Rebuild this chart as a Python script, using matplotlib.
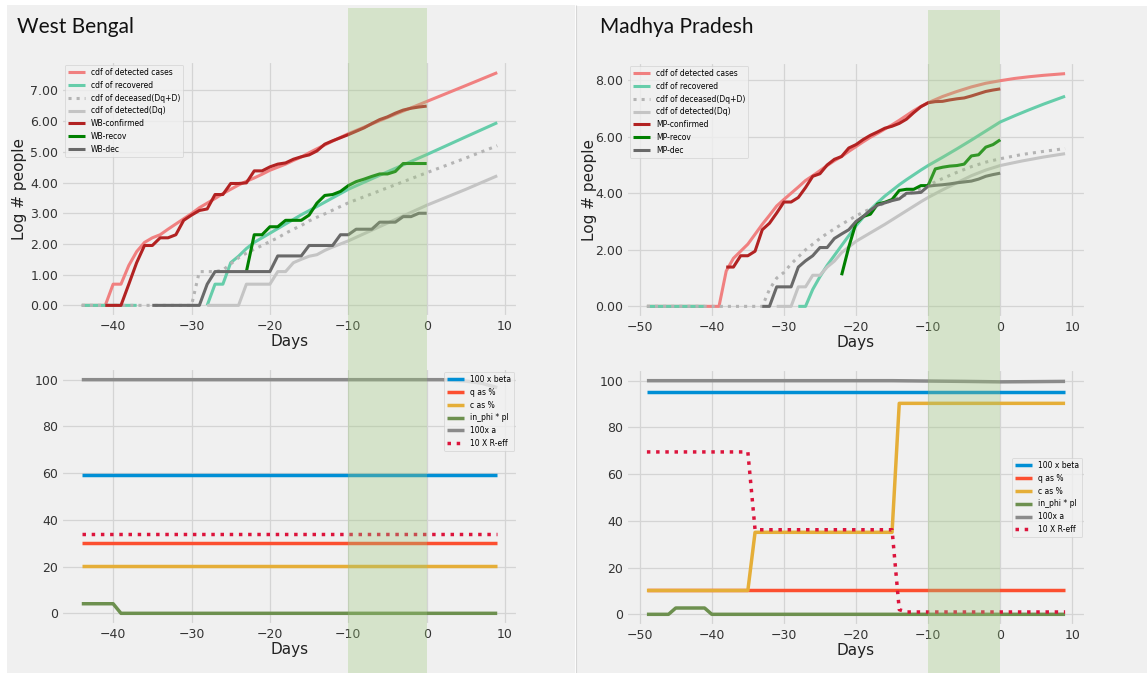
import matplotlib
matplotlib.use("Agg")
import matplotlib.pyplot as plt
import numpy as np
from matplotlib.lines import Line2D
from matplotlib.patches import Rectangle
from matplotlib.ticker import FormatStrFormatter, MultipleLocator
from matplotlib.transforms import blended_transform_factory

nan = np.nan

# ---------------- West Bengal (log of counts) ----------------
wb_det_days = [-44, -41, -40, -39, -38, -37, -36, -35, -34, -33, -32, -31, -30, -29, -28,
               -27, -26, -25, -24, -23, -22, -21, -20, -19, -18, -17, -16, -15, -14, -12,
               -10, -5, 0, 5, 9]
wb_det = [0, 0, 0.69, 0.69, 1.3, 1.75, 2.05, 2.2, 2.3, 2.48, 2.65, 2.82, 2.99, 3.18, 3.33,
          3.48, 3.64, 3.78, 3.92, 4.04, 4.15, 4.27, 4.4, 4.5, 4.6, 4.72, 4.83, 4.97, 5.1, 5.35,
          5.59, 6.12, 6.64, 7.16, 7.58]

wb_rec_days = [-44, -37, -36, -28, -27, -26, -25, -24, -23, -22, -21, -20, -18, -16, -14,
               -12, -10, -5, 0, 5, 9]
wb_rec = [0, 0, nan, 0, 0.69, 0.69, 1.39, 1.6, 1.85, 2.05, 2.2, 2.35, 2.65, 2.95, 3.22,
          3.5, 3.78, 4.35, 4.91, 5.49, 5.95]

wb_dead_days = [-44, -30, -29, -28, -27, -26, -25, -24, -23, -22, -21, -20, -19, -18, -17,
                -16, -15, -14, -13, -12, -11, -10, -5, 0, 5, 9]
wb_dead = [0, 0, 1.1, 1.1, 1.1, 1.15, 1.35, 1.55, 1.7, 1.83, 1.95, 2.08, 2.2, 2.35, 2.48,
           2.6, 2.75, 2.87, 2.98, 3.1, 3.22, 3.34, 3.83, 4.32, 4.8, 5.2]

wb_dq_days = [-28, -24, -23, -20, -19, -18, -17, -16, -15, -14, -13, -12, -11, -10, -5, 0, 5, 9]
wb_dq = [0, 0, 0.69, 0.69, 1.1, 1.1, 1.39, 1.5, 1.6, 1.65, 1.79, 1.9, 2.0, 2.1, 2.68, 3.26,
         3.78, 4.22]

wb_conf_days = list(range(-41, 1))
wb_conf = [0, 0, 0, 0.69, 1.39, 1.95, 1.95, 2.2, 2.2, 2.3, 2.77, 2.94, 3.09, 3.14, 3.61,
           3.61, 3.97, 3.97, 3.99, 4.38, 4.38, 4.51, 4.6, 4.64, 4.76, 4.84, 4.9, 5.03, 5.25,
           5.36, 5.46, 5.56, 5.67, 5.78, 5.92, 6.05, 6.14, 6.26, 6.36, 6.42, 6.46, 6.49]

wb_recov_days = list(range(-23, 1))
wb_recov = [1.1, 2.3, 2.3, 2.56, 2.56, 2.77, 2.77, 2.77, 2.94, 3.33, 3.58, 3.61, 3.71, 3.9,
            4.03, 4.11, 4.2, 4.28, 4.28, 4.36, 4.62, 4.62, 4.62, 4.62]

wb_dec_days = list(range(-35, 1))
wb_dec = [0, 0, 0, 0, 0, 0, 0, 0.69, 1.1, 1.1, 1.1, 1.1, 1.1, 1.1, 1.1, 1.1, 1.61, 1.61,
          1.61, 1.61, 1.95, 1.95, 1.95, 1.95, 2.3, 2.3, 2.48, 2.48, 2.48, 2.71, 2.71, 2.71,
          2.89, 2.89, 3.0, 3.0]

# West Bengal parameters
wb_par_days = [-44, -40, -39, 0, 9]
wb_beta = [59, 59, 59, 59, 59]
wb_q = [30.3, 30.3, 30.3, 30.3, 30.3]
wb_c = [20.2, 20.2, 20.2, 20.2, 20.2]
wb_phi = [4.1, 4.1, 0, 0, 0]
wb_reff = [34, 34, 34, 34, 34]
wb_a_days = [-44, 2, 5, 7, 9]
wb_a = [100, 100, 99.4, 98.5, 96.6]

# ---------------- Madhya Pradesh (log of counts) ----------------
mp_det_days = [-49, -39, -38, -37, -36, -35, -34, -33, -32, -31, -30, -29, -28, -27, -26,
               -25, -24, -23, -22, -21, -20, -19, -18, -17, -16, -15, -14, -13, -12, -11,
               -10, -8, -6, -4, -2, 0, 2, 4, 6, 9]
mp_det = [0, 0, 1.25, 1.7, 1.95, 2.2, 2.55, 2.9, 3.22, 3.55, 3.78, 4.0, 4.22, 4.45, 4.62,
          4.8, 4.98, 5.15, 5.3, 5.48, 5.65, 5.82, 5.98, 6.12, 6.27, 6.42, 6.58, 6.75, 6.92,
          7.07, 7.2, 7.42, 7.6, 7.76, 7.89, 7.98, 8.06, 8.12, 8.17, 8.23]

mp_rec_days = [-49, -41, -40, -28, -27, -26, -25, -24, -23, -22, -21, -20, -19, -18, -17,
               -16, -15, -14, -13, -12, -11, -10, -8, -6, -4, -2, 0, 2, 4, 6, 9]
mp_rec = [0, 0, nan, 0, 0, 0.6, 1.05, 1.45, 1.8, 2.15, 2.5, 2.85, 3.15, 3.42, 3.67, 3.9,
          4.1, 4.3, 4.48, 4.65, 4.82, 4.98, 5.27, 5.57, 5.88, 6.2, 6.52, 6.74, 6.95, 7.15, 7.43]

mp_dead_days = [-49, -33, -32, -31, -30, -29, -28, -27, -26, -25, -24, -23, -22, -21, -20,
                -19, -18, -17, -16, -15, -14, -13, -12, -11, -10, -8, -6, -4, -2, 0, 3, 6, 9]
mp_dead = [0, 0, 0.6, 1.0, 1.2, 1.5, 1.75, 2.0, 2.2, 2.4, 2.58, 2.74, 2.9, 3.05, 3.2, 3.33,
           3.45, 3.55, 3.65, 3.75, 3.85, 3.95, 4.05, 4.15, 4.28, 4.52, 4.74, 4.94, 5.1, 5.22,
           5.37, 5.48, 5.58]

mp_dq_days = [-31, -29, -28, -27, -26, -25, -24, -23, -22, -21, -20, -19, -18, -17, -16,
              -15, -14, -13, -12, -11, -10, -8, -6, -4, -2, 0, 3, 6, 9]
mp_dq = [0, 0, 0.69, 0.69, 1.1, 1.1, 1.39, 1.6, 1.9, 2.1, 2.3, 2.45, 2.6, 2.75, 2.9, 3.06,
         3.22, 3.38, 3.54, 3.7, 3.85, 4.12, 4.37, 4.62, 4.82, 4.98, 5.14, 5.28, 5.4]

mp_conf_days = list(range(-38, 1))
mp_conf = [1.39, 1.39, 1.79, 1.79, 1.95, 2.71, 2.94, 3.3, 3.69, 3.69, 3.85, 4.2, 4.6, 4.69,
           5.0, 5.2, 5.3, 5.6, 5.72, 5.9, 6.05, 6.17, 6.3, 6.37, 6.47, 6.62, 6.85, 7.06, 7.2,
           7.24, 7.25, 7.3, 7.34, 7.37, 7.44, 7.52, 7.6, 7.65, 7.69]

mp_recov_days = list(range(-22, 1))
mp_recov = [1.1, 2.1, 2.95, 3.18, 3.26, 3.62, 3.68, 3.78, 4.1, 4.14, 4.14, 4.27, 4.27, 4.86,
            4.92, 4.96, 4.98, 5.03, 5.32, 5.36, 5.63, 5.72, 5.89]

mp_dec_days = list(range(-33, 1))
mp_dec = [0, 0, 0.69, 0.69, 0.69, 1.39, 1.61, 1.79, 2.08, 2.08, 2.4, 2.56, 2.71, 3.0, 3.18,
          3.4, 3.58, 3.66, 3.74, 3.8, 4.0, 4.01, 4.03, 4.25, 4.28, 4.3, 4.33, 4.37, 4.4, 4.43,
          4.5, 4.6, 4.66, 4.71]

# Madhya Pradesh parameters
mp_beta_days = [-49, 9]
mp_beta = [95.3, 95.3]
mp_q_days = [-49, 9]
mp_q = [10.2, 10.2]
mp_c_days = [-49, -35, -34, -15, -14, 9]
mp_c = [10.2, 10.2, 35.1, 35.1, 90.3, 90.3]
mp_phi_days = [-49, -46, -45, -41, -40, 9]
mp_phi = [0, 0, 2.7, 2.7, 0, 0]
mp_a_days = [-49, -15, -5, 0, 5, 9]
mp_a = [100, 100, 99.7, 99.5, 99.6, 99.7]
mp_reff_days = [-49, -35, -34, -15, -14, -13, 9]
mp_reff = [69.5, 69.5, 36.2, 36.2, 2.0, 1.0, 1.0]

# ---------------- figure ----------------
plt.style.use("fivethirtyeight")
plt.rcParams["font.family"] = ["DejaVu Sans"]

W, H = 1147, 673
BG = "#f0f0f0"


def px_box(left, top, right, bottom):
    return [left / W, 1 - bottom / H, (right - left) / W, (bottom - top) / H]


fig = plt.figure(figsize=(W / 100, H / 100), dpi=100, facecolor="white")

# the two panels
fig.add_artist(Rectangle((7 / W, 0), (575 - 7) / W, (H - 5) / H, transform=fig.transFigure,
                         facecolor=BG, edgecolor="none", zorder=-10))
fig.add_artist(Rectangle((576 / W, 0), (W - 576) / W, (H - 6) / H, transform=fig.transFigure,
                         facecolor=BG, edgecolor="none", zorder=-10))
fig.add_artist(Line2D([575.5 / W, 575.5 / W], [0, (H - 5) / H], transform=fig.transFigure,
                      color="#d6d6d6", lw=0.8, zorder=-9))

tick_size = 9
label_size = 11
leg_size = 5.5


def style_axes(ax, ystep, fmt=None):
    ax.set_facecolor(BG)
    ax.tick_params(labelsize=tick_size, colors="#333333", pad=2)
    ax.xaxis.set_major_locator(MultipleLocator(10))
    ax.yaxis.set_major_locator(MultipleLocator(ystep))
    if fmt:
        ax.yaxis.set_major_formatter(FormatStrFormatter(fmt))
    ax.grid(True, color="#d4d4d4", lw=0.9)
    ax.set_xlabel("Days", fontsize=label_size, color="#222222")


def draw_counts(ax, cdfs, data, names):
    det, rec, dead, dq = cdfs
    ax.plot(*det, color="#f08080", lw=2.2, label="cdf of detected cases")
    ax.plot(*rec, color="#66cdaa", lw=2.2, label="cdf of recovered")
    ax.plot(*dead, color="#b4b4b4", lw=2.2, ls=":", label="cdf of deceased(Dq+D)")
    ax.plot(*dq, color="#c4c4c4", lw=2.2, label="cdf of detected(Dq)")
    conf, recov, dec = data
    ax.plot(*conf, color="#b22222", lw=2.2, label=names[0])
    ax.plot(*recov, color="#008000", lw=2.2, label=names[1])
    ax.plot(*dec, color="#696969", lw=2.2, label=names[2])
    style_axes(ax, 1, "%.2f")
    ax.set_ylabel("Log # people", fontsize=label_size, color="#222222")
    ax.legend(loc="upper left", fontsize=leg_size, borderaxespad=0.5, handlelength=2.2)


def draw_params(ax, beta, q, c, phi, a, reff, loc):
    ax.plot(*beta, color="#008fd5", lw=2.5, label="100 x beta")
    ax.plot(*q, color="#fc4f30", lw=2.5, label="q as %")
    ax.plot(*c, color="#e5ae38", lw=2.5, label="c as %")
    ax.plot(*phi, color="#6d904f", lw=2.5, label="in_phi * pl")
    ax.plot(*a, color="#8b8b8b", lw=2.5, label="100x a")
    ax.plot(*reff, color="#dc143c", lw=2.5, ls=":", label="10 X R-eff")
    style_axes(ax, 20)
    ax.legend(loc=loc, fontsize=leg_size, borderaxespad=0.5, handlelength=2.2)


# West Bengal
ax1 = fig.add_axes(px_box(61, 61, 518, 317))
draw_counts(ax1,
            [(wb_det_days, wb_det), (wb_rec_days, wb_rec), (wb_dead_days, wb_dead),
             (wb_dq_days, wb_dq)],
            [(wb_conf_days, wb_conf), (wb_recov_days, wb_recov), (wb_dec_days, wb_dec)],
            ["WB-confirmed", "WB-recov", "WB-dec"])
ax1.yaxis.set_label_coords(-0.074, 0.5)
ax1.xaxis.set_label_coords(0.5, -0.068)

ax2 = fig.add_axes(px_box(61, 368, 518, 625))
draw_params(ax2, (wb_par_days, wb_beta), (wb_par_days, wb_q), (wb_par_days, wb_c),
            (wb_par_days, wb_phi), (wb_a_days, wb_a), (wb_par_days, wb_reff), "upper right")
ax2.xaxis.set_label_coords(0.5, -0.068)

# Madhya Pradesh
ax3 = fig.add_axes(px_box(626, 62, 1086, 318))
draw_counts(ax3,
            [(mp_det_days, mp_det), (mp_rec_days, mp_rec), (mp_dead_days, mp_dead),
             (mp_dq_days, mp_dq)],
            [(mp_conf_days, mp_conf), (mp_recov_days, mp_recov), (mp_dec_days, mp_dec)],
            ["MP-confirmed", "MP-recov", "MP-dec"])
ax3.yaxis.set_major_locator(MultipleLocator(2))
ax3.yaxis.set_label_coords(-0.063, 0.5)
ax3.xaxis.set_label_coords(0.5, -0.068)

ax4 = fig.add_axes(px_box(626, 369, 1086, 626))
draw_params(ax4, (mp_beta_days, mp_beta), (mp_q_days, mp_q), (mp_c_days, mp_c),
            (mp_phi_days, mp_phi), (mp_a_days, mp_a), (mp_reff_days, mp_reff), "center right")
ax4.xaxis.set_label_coords(0.5, -0.068)

# freeze the autoscaled limits, then shade the last ten days across each column
for ax in (ax1, ax2, ax3, ax4):
    ax.set_xlim(ax.get_xlim())
    ax.set_ylim(ax.get_ylim())

for ax, top in ((ax1, 8), (ax3, 10)):
    trans = blended_transform_factory(ax.transData, fig.transFigure)
    fig.add_artist(Rectangle((-10, 0), 10, (H - top) / H, transform=trans,
                             facecolor="#9dc87b", alpha=0.32, edgecolor="none", zorder=5))

fig.text(17 / W, 1 - 27 / H, "West Bengal", fontsize=15, family="Lato",
         ha="left", va="center", color="#111111")
fig.text(600 / W, 1 - 27 / H, "Madhya Pradesh", fontsize=15, family="Lato",
         ha="left", va="center", color="#111111")

fig.savefig("out.png", dpi=100, facecolor=fig.get_facecolor())
